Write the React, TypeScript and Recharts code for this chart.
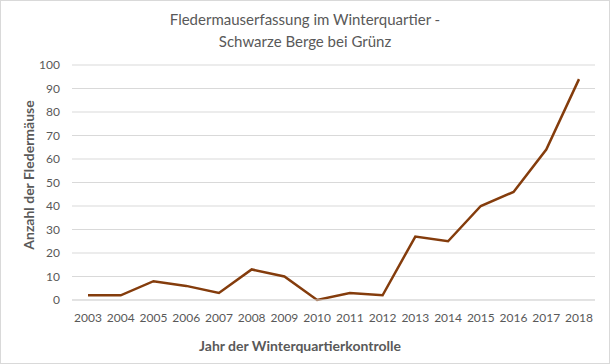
import { LineChart, Line, XAxis, YAxis, CartesianGrid, Label } from "recharts";

const years = [
  "2003", "2004", "2005", "2006", "2007", "2008", "2009", "2010",
  "2011", "2012", "2013", "2014", "2015", "2016", "2017", "2018",
];
const bats = [2, 2, 8, 6, 3, 13, 10, 0, 3, 2, 27, 25, 40, 46, 64, 94];
const yTicks = [0, 10, 20, 30, 40, 50, 60, 70, 80, 90, 100];

const data = years.map((year, i) => ({ year, bats: bats[i] }));

const font = "Lato, 'Open Sans', sans-serif";
const grey = "#595959";

// axis titles sit a bit off the plot centre in the original, so draw them ourselves
const YTitle = () => (
  <text
    x={27}
    y={174}
    transform="rotate(-90 27 174)"
    textAnchor="middle"
    dominantBaseline="central"
    fill={grey}
    fontSize={14}
    fontWeight={700}
    fontFamily={font}
  >
    Anzahl der Fledermäuse
  </text>
);

const XTitle = () => (
  <text
    x={299}
    y={350}
    textAnchor="middle"
    fill={grey}
    fontSize={14}
    fontWeight={700}
    fontFamily={font}
  >
    Jahr der Winterquartierkontrolle
  </text>
);

export default function App() {
  return (
    <div
      style={{
        position: "absolute",
        left: 0,
        top: 0,
        width: 610,
        height: 364,
        boxSizing: "border-box",
        border: "1px solid #d9d9d9",
        background: "#fff",
        fontFamily: font,
      }}
    >
      <div
        style={{
          position: "absolute",
          left: 0,
          top: 7,
          width: 608,
          textAlign: "center",
          color: grey,
          fontSize: 15,
          lineHeight: "22px",
        }}
      >
        Fledermauserfassung im Winterquartier -
        <br />
        Schwarze Berge bei Grünz
      </div>
      <LineChart
        width={608}
        height={362}
        data={data}
        margin={{ top: 64, right: 14, left: -1, bottom: 0 }}
        style={{ position: "absolute", left: 0, top: 0 }}
      >
        <CartesianGrid vertical={false} stroke="#d9d9d9" />
        <XAxis
          dataKey="year"
          height={63}
          padding={{ left: 16, right: 16 }}
          tickSize={0}
          tickMargin={13}
          stroke="#d9d9d9"
          tick={{ fill: grey, fontSize: 12, fontFamily: font }}
          interval={0}
        >
          <Label content={<XTitle />} />
        </XAxis>
        <YAxis
          width={72}
          domain={[0, 100]}
          ticks={yTicks}
          axisLine={false}
          tickSize={0}
          tickMargin={12}
          tick={{ fill: grey, fontSize: 12, fontFamily: font }}
        >
          <Label content={<YTitle />} />
        </YAxis>
        <Line
          type="linear"
          dataKey="bats"
          stroke="#843c0c"
          strokeWidth={2.5}
          dot={false}
          isAnimationActive={false}
        />
      </LineChart>
    </div>
  );
}
